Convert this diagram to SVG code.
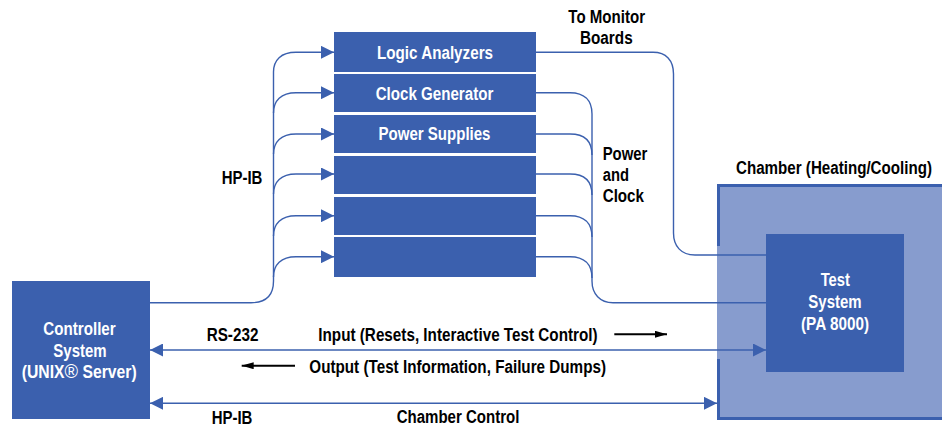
<svg xmlns="http://www.w3.org/2000/svg" width="942" height="428" viewBox="0 0 942 428">
  <style>
    .box { fill: #3B60AE; }
    .wire { fill: none; stroke: #3B60AE; stroke-width: 1.4; }
    .flow { fill: none; stroke: #000; stroke-width: 2; }
    text { font-family: "Liberation Sans", Arial, Helvetica, sans-serif; font-size: 18px; font-weight: bold; }
    .w { fill: #fff; }
    .k { fill: #000; }
    .mid { text-anchor: middle; }
  </style>
  <defs>
    <marker id="ah" markerUnits="userSpaceOnUse" viewBox="0 0 13 13" markerWidth="13" markerHeight="13" refX="13" refY="6.5" orient="auto-start-reverse">
      <path d="M0,0 L13,6.5 L0,13 z" fill="#3B60AE"/>
    </marker>
    <marker id="ak" markerUnits="userSpaceOnUse" viewBox="0 0 12 7" markerWidth="12" markerHeight="7" refX="12" refY="3.5" orient="auto">
      <path d="M0,0 L12,3.5 L0,7 z" fill="#000"/>
    </marker>
  </defs>

  <!-- environmental chamber with its test system -->
  <g id="chamber">
    <rect x="717" y="184" width="230" height="235" fill="#879CCE"/>
    <path d="M718.5,246 V185.5 H945 M718.5,359 V418.5 H945" fill="none" stroke="#3B60AE" stroke-width="3"/>
    <text class="k" x="736" y="174" textLength="196" lengthAdjust="spacingAndGlyphs">Chamber (Heating/Cooling)</text>
  </g>
  <g id="test-system">
    <rect class="box" x="766" y="234" width="138" height="138"/>
    <text class="w mid" x="835.3" y="286" textLength="29.3" lengthAdjust="spacingAndGlyphs">Test</text>
    <text class="w mid" x="835" y="308.3" textLength="53.3" lengthAdjust="spacingAndGlyphs">System</text>
    <text class="w mid" x="835" y="330" textLength="68" lengthAdjust="spacingAndGlyphs">(PA 8000)</text>
  </g>

  <!-- controller -->
  <g id="controller">
    <rect class="box" x="12" y="281" width="138" height="138"/>
    <text class="w mid" x="79.5" y="335" textLength="72.3" lengthAdjust="spacingAndGlyphs">Controller</text>
    <text class="w mid" x="80" y="356.7" textLength="53.3" lengthAdjust="spacingAndGlyphs">System</text>
    <text class="w mid" x="79.2" y="378" textLength="115" lengthAdjust="spacingAndGlyphs">(UNIX<tspan font-weight="normal" font-size="21px">®</tspan> Server)</text>
  </g>

  <!-- instrument rack -->
  <g id="logic-analyzers">
    <rect class="box" x="334" y="32" width="202" height="40"/>
    <text class="w mid" x="435" y="59" textLength="116" lengthAdjust="spacingAndGlyphs">Logic Analyzers</text>
  </g>
  <g id="clock-generator">
    <rect class="box" x="334" y="74" width="202" height="38"/>
    <text class="w mid" x="434.5" y="100" textLength="117.6" lengthAdjust="spacingAndGlyphs">Clock Generator</text>
  </g>
  <g id="power-supplies">
    <rect class="box" x="334" y="115" width="202" height="38"/>
    <text class="w mid" x="434.5" y="140" textLength="112" lengthAdjust="spacingAndGlyphs">Power Supplies</text>
  </g>
  <g id="instrument-4">
    <rect class="box" x="334" y="156" width="202" height="38"/>
  </g>
  <g id="instrument-5">
    <rect class="box" x="334" y="197" width="202" height="38"/>
  </g>
  <g id="instrument-6">
    <rect class="box" x="334" y="237" width="202" height="40"/>
  </g>

  <!-- connectors -->
  <g id="connectors">
    <!-- HP-IB bus from the controller to each instrument -->
    <path class="wire" marker-end="url(#ah)" d="M150,302.7 H251 C266,302.7 273.5,296 273.5,281 V72 C273.5,60 281,52.3 296,52.3 H334"/>
    <path class="wire" marker-end="url(#ah)" d="M273.5,113 C273.5,101 281,92.7 296,92.7 H334"/>
    <path class="wire" marker-end="url(#ah)" d="M273.5,154 C273.5,142 281,134 296,134 H334"/>
    <path class="wire" marker-end="url(#ah)" d="M273.5,194 C273.5,182 281,174 296,174 H334"/>
    <path class="wire" marker-end="url(#ah)" d="M273.5,236 C273.5,224 281,215.7 296,215.7 H334"/>
    <path class="wire" marker-end="url(#ah)" d="M273.5,277 C273.5,265 281,256.7 296,256.7 H334"/>

    <!-- monitor boards -->
    <path class="wire" d="M536,52.3 H653 C666,52.3 673.5,60 673.5,74 V233 C673.5,246 681,255 695,255 H766"/>

    <!-- power and clock bundle -->
    <path class="wire" d="M536,92.7 H570 C584,92.7 592,100 592,114 V281 C592,294 600,302.7 613,302.7 H766"/>
    <path class="wire" d="M536,134 H570 C584,134 592,141 592,155"/>
    <path class="wire" d="M536,174 H570 C584,174 592,181 592,195"/>
    <path class="wire" d="M536,215.7 H570 C584,215.7 592,223 592,237"/>
    <path class="wire" d="M536,256.7 H570 C584,256.7 592,264 592,278"/>

    <!-- RS-232 and chamber HP-IB -->
    <path class="wire" marker-start="url(#ah)" marker-end="url(#ah)" d="M150,350 H766"/>
    <path class="wire" marker-start="url(#ah)" marker-end="url(#ah)" d="M150,403.3 H717"/>

    <!-- direction indicators -->
    <path class="flow" marker-end="url(#ak)" d="M614.3,334.3 H667"/>
    <path class="flow" marker-end="url(#ak)" d="M295,365.7 H241.7"/>
  </g>

  <!-- connector labels -->
  <g id="labels">
    <text class="k mid" x="606.7" y="22.7" textLength="76.7" lengthAdjust="spacingAndGlyphs">To Monitor</text>
    <text class="k mid" x="606.3" y="44.3" textLength="52.7" lengthAdjust="spacingAndGlyphs">Boards</text>
    <text class="k" x="602.7" y="159.5" textLength="44.7" lengthAdjust="spacingAndGlyphs">Power</text>
    <text class="k" x="602.7" y="181" textLength="26.3" lengthAdjust="spacingAndGlyphs">and</text>
    <text class="k" x="602.7" y="202" textLength="41.3" lengthAdjust="spacingAndGlyphs">Clock</text>
    <text class="k" x="221.7" y="184.3" textLength="40.7" lengthAdjust="spacingAndGlyphs">HP-IB</text>
    <text class="k" x="206.7" y="340.7" textLength="51.7" lengthAdjust="spacingAndGlyphs">RS-232</text>
    <text class="k" x="318.3" y="340.7" textLength="279.3" lengthAdjust="spacingAndGlyphs">Input (Resets, Interactive Test Control)</text>
    <text class="k" x="309.3" y="373.3" textLength="296.7" lengthAdjust="spacingAndGlyphs">Output (Test Information, Failure Dumps)</text>
    <text class="k" x="211.7" y="424.3" textLength="40.7" lengthAdjust="spacingAndGlyphs">HP-IB</text>
    <text class="k" x="396.7" y="423.3" textLength="122.7" lengthAdjust="spacingAndGlyphs">Chamber Control</text>
  </g>
</svg>
